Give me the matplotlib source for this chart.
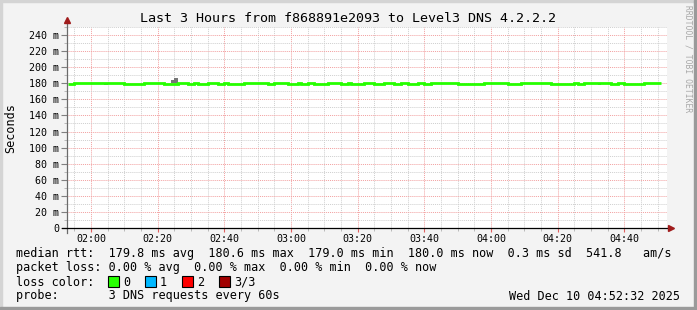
import matplotlib
matplotlib.use('Agg')
import matplotlib.pyplot as plt
from matplotlib.patches import Rectangle
from matplotlib.ticker import MultipleLocator

# median rtt steps (time, ms), step changes
rtt_times = ['01:53', '01:55', '02:10', '02:16', '02:22', '02:26', '02:29', '02:31',
             '02:32', '02:35', '02:38', '02:40', '02:41', '02:46', '02:53', '02:55',
             '02:59', '03:02', '03:03', '03:05', '03:07', '03:11', '03:15', '03:17',
             '03:18', '03:22', '03:25', '03:28', '03:31', '03:33', '03:35', '03:38',
             '03:40', '03:42', '03:50', '03:58', '04:05', '04:09', '04:18', '04:25',
             '04:26', '04:28', '04:36', '04:38', '04:40', '04:46', '04:51']
rtt_ms = [179.2, 180.5, 179.2, 180.5, 179.2, 180.5, 179.2, 180.5,
          179.2, 180.5, 179.2, 180.5, 179.2, 180.5, 179.2, 180.5,
          179.2, 180.5, 179.2, 180.5, 179.2, 180.5, 179.2, 180.5,
          179.2, 180.5, 179.2, 180.5, 179.2, 180.5, 179.2, 180.5,
          179.2, 180.5, 179.2, 180.5, 179.2, 180.5, 179.2, 180.5,
          179.2, 180.5, 179.2, 180.5, 179.2, 180.5, 180.5]

# smoke (spread of the pings)
smoke_start = ['02:04', '02:24', '02:25', '04:32']
smoke_end = ['02:05', '02:25', '02:26', '04:33']
smoke_low = [178.1, 180.0, 180.0, 178.1]
smoke_high = [179.2, 184.0, 186.5, 179.2]

x_start = '01:52:50'
x_end = '04:52:50'
x_ticks = ['02:00', '02:20', '02:40', '03:00', '03:20', '03:40', '04:00', '04:20', '04:40']
y_ticks = [0, 20, 40, 60, 80, 100, 120, 140, 160, 180, 200, 220, 240]

loss_labels = ['0', '1', '2', '3/3']
loss_colors = ['#26ff00', '#00b8ff', '#ff0000', '#a10000']

title = 'Last 3 Hours from f868891e2093 to Level3 DNS 4.2.2.2'
legend_lines = [
    'median rtt:  179.8 ms avg  180.6 ms max  179.0 ms min  180.0 ms now  0.3 ms sd  541.8   am/s',
    'packet loss: 0.00 % avg  0.00 % max  0.00 % min  0.00 % now',
    'loss color:',
    'probe:       3 DNS requests every 60s',
]
stamp = 'Wed Dec 10 04:52:32 2025'


def minutes(s):
    parts = [float(p) for p in s.split(':')]
    m = parts[0] * 60 + parts[1]
    if len(parts) > 2:
        m += parts[2] / 60
    return m


W, H = 697, 310
MONO = 'DejaVu Sans Mono'
plt.rcParams['font.family'] = MONO


def fx(x):
    return x / W


def fy(y):
    return 1 - y / H


fig = plt.figure(figsize=(W / 100, H / 100), dpi=100, facecolor='#f3f3f3')

# canvas shading border
fig.patches.append(Rectangle((0, fy(2)), 1, 2 / H, transform=fig.transFigure,
                             color='#d4d4d4', zorder=0))
fig.patches.append(Rectangle((0, 0), 2 / W, 1, transform=fig.transFigure,
                             color='#d4d4d4', zorder=0))
fig.patches.append(Rectangle((0, 0), 1, 3 / H, transform=fig.transFigure,
                             color='#9a9a9a', zorder=0))
fig.patches.append(Rectangle((1 - 3 / W, 0), 3 / W, 1, transform=fig.transFigure,
                             color='#9a9a9a', zorder=0))

ax = fig.add_axes([fx(67), fy(228), 600 / W, 201 / H])
ax.set_facecolor('white')
ax.set_xlim(minutes(x_start), minutes(x_end))
ax.set_ylim(0, 250)
for s in ax.spines.values():
    s.set_visible(False)

ax.set_xticks([minutes(t) for t in x_ticks])
ax.set_xticklabels(x_ticks)
ax.xaxis.set_minor_locator(MultipleLocator(5))
ax.set_yticks(y_ticks)
ax.set_yticklabels(['0' if v == 0 else '%d m' % v for v in y_ticks])
ax.yaxis.set_minor_locator(MultipleLocator(10))

ax.tick_params(axis='x', which='major', length=3, color='#e06060', labelsize=7.2, pad=1.5)
ax.tick_params(axis='x', which='minor', length=2, color='#b0b0b0')
ax.tick_params(axis='y', which='major', length=4, color='#808080', labelsize=7.2, pad=1.5)
ax.tick_params(axis='y', which='minor', length=2, color='#b0b0b0')

ax.set_axisbelow(True)
ax.grid(which='minor', color='#cfcfcf', linestyle=(0, (1, 1)), lw=0.7)
ax.grid(which='major', color='#f2a0a0', linestyle=(0, (1, 1)), lw=0.7)

# smoke
for s0, s1, lo, hi in zip(smoke_start, smoke_end, smoke_low, smoke_high):
    ax.bar(minutes(s0), hi - lo, bottom=lo, width=minutes(s1) - minutes(s0),
           align='edge', color='#767676', lw=0, zorder=3)

# median line
ax.step([minutes(t) for t in rtt_times], rtt_ms, where='post', color='#26ff00',
        lw=2.0, solid_joinstyle='miter', solid_capstyle='butt', zorder=4)

# axes with arrows
ax.plot([0, 0], [-5 / 201, 1.03], transform=ax.transAxes, color='#6a6a6a',
        lw=0.9, clip_on=False, zorder=5)
ax.plot([0], [1.035], marker='^', ms=5, color='#a01c1c', transform=ax.transAxes,
        clip_on=False, zorder=6)
ax.plot([-5 / 600, 1.005], [0, 0], transform=ax.transAxes, color='black',
        lw=0.9, clip_on=False, zorder=5)
ax.plot([1.007], [0], marker='>', ms=5, color='#a01c1c', transform=ax.transAxes,
        clip_on=False, zorder=6)

# texts
fig.text(fx(348), fy(19), title, ha='center', va='center', fontsize=9.6)
fig.text(fx(11), fy(128), 'Seconds', ha='center', va='center', rotation=90, fontsize=8.5)
fig.text(fx(688), fy(5), 'RRDTOOL / TOBI OETIKER', ha='center', va='top',
         rotation=270, fontsize=5.8, color='#a8a8a8')

line_y = [254, 268, 282, 296]
for txt, y in zip(legend_lines, line_y):
    fig.text(fx(16), fy(y), txt, ha='left', va='center', fontsize=8.5)

for i, (lab, col) in enumerate(zip(loss_labels, loss_colors)):
    bx = 108 + i * 37
    fig.patches.append(Rectangle((fx(bx), fy(287)), 11 / W, 11 / H,
                                 transform=fig.transFigure, facecolor=col,
                                 edgecolor='black', lw=0.8))
    fig.text(fx(bx + 15), fy(282), lab, ha='left', va='center', fontsize=8.5)

fig.text(fx(680), fy(296), stamp, ha='right', va='center', fontsize=8.5)

plt.savefig('out.png', dpi=100, facecolor=fig.get_facecolor())
